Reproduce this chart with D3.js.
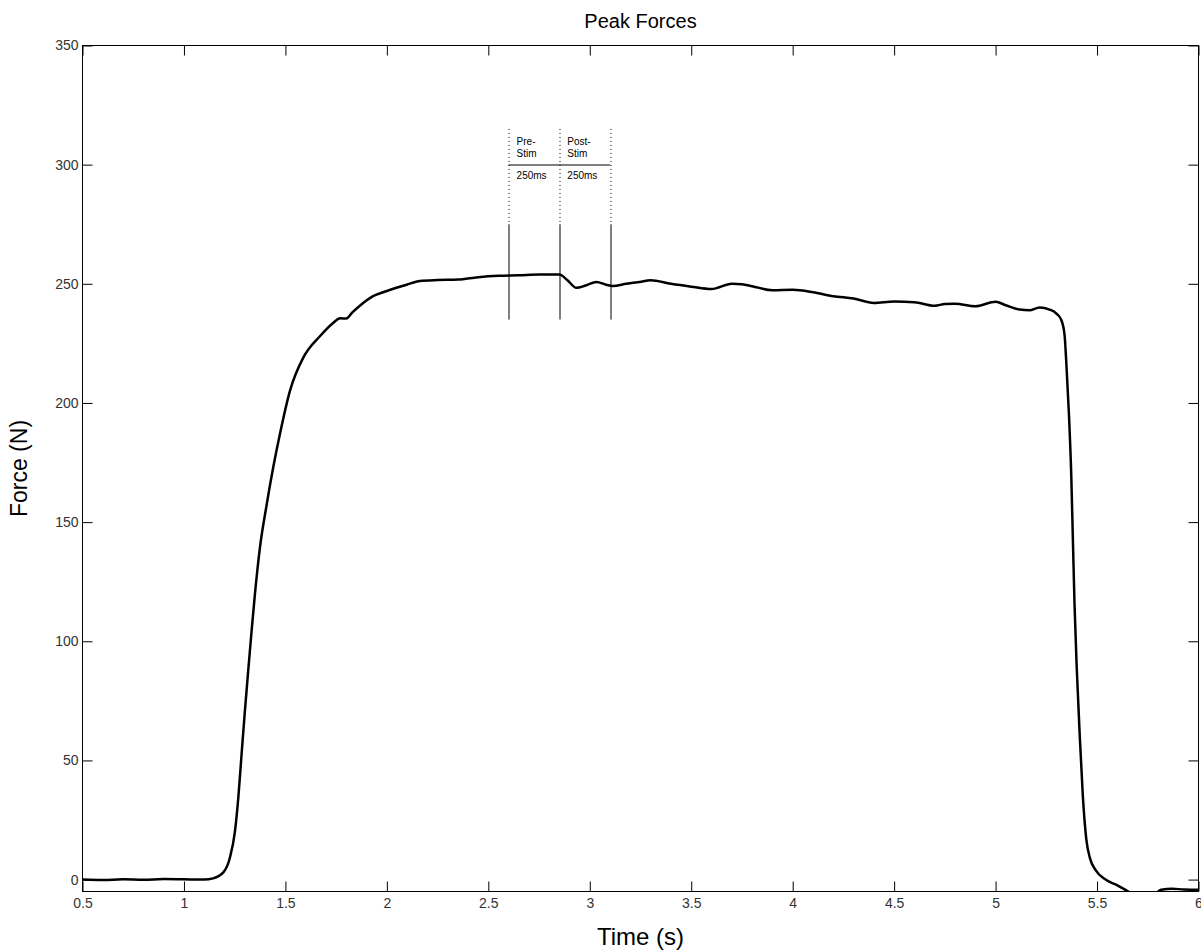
<!DOCTYPE html>
<html>
<head>
<meta charset="utf-8">
<script src="https://cdn.jsdelivr.net/npm/d3@7"></script>
<style>
  body { margin: 0; background: #fff; }
  svg { font-family: "Liberation Sans", Arial, sans-serif; }
  .axis text { fill: #333; font-size: 14px; }
  .axis line { stroke: #000; }
</style>
</head>
<body>
<div id="chart-area"></div>
<script>
// force trace
const times = [0.5, 0.6, 0.7, 0.8, 0.9, 1.0, 1.1, 1.144, 1.194, 1.227, 1.251, 1.268, 1.284, 1.300,
  1.317, 1.333, 1.35, 1.374, 1.407, 1.44, 1.473, 1.522, 1.588, 1.67, 1.735, 1.77, 1.80, 1.83,
  1.867, 1.932, 2.0, 2.097, 2.163, 2.25, 2.35, 2.45, 2.55, 2.65, 2.75, 2.85, 2.89, 2.934, 2.98,
  3.033, 3.08, 3.113, 3.18, 3.246, 3.3, 3.4, 3.5, 3.6, 3.7, 3.75, 3.8, 3.9, 4.0, 4.1, 4.2, 4.3,
  4.4, 4.5, 4.6, 4.7, 4.75, 4.8, 4.9, 5.0, 5.05, 5.118, 5.167, 5.217, 5.266, 5.3, 5.324, 5.340,
  5.348, 5.361, 5.373, 5.381, 5.389, 5.400, 5.414, 5.430, 5.447, 5.465, 5.493, 5.542, 5.6, 5.65,
  5.7, 5.76, 5.816, 5.87, 5.93, 6.0]
const forces = [0, -0.2, 0.1, -0.1, 0.2, 0.1, 0, 0.5, 3, 9.4, 20, 34.5, 52.6, 70.4,
  88, 104, 120, 139, 157, 173, 187, 205, 219, 228, 233.6, 235.5, 235.4, 238,
  240.8, 244.8, 247, 249.6, 251.2, 251.6, 251.8, 252.8, 253.4, 253.6, 253.9, 253.9, 251.5, 248.3, 249.3,
  250.8, 249.6, 249.1, 250, 250.8, 251.5, 250, 248.8, 247.8, 250, 249.8, 249, 247.3, 247.5, 246.5, 244.8, 243.8,
  242, 242.6, 242.3, 240.8, 241.5, 241.6, 240.6, 242.5, 241, 239.2, 238.9, 240.1, 239.2, 237.5, 234.8, 228.5,
  217.7, 196.2, 169.4, 142.5, 115.6, 88.7, 61.8, 35, 17, 9, 4, 0, -2.4, -4.8,
  -7, -7.5, -4.3, -3.8, -4.2, -4.3]

const xTicks = [0.5, 1, 1.5, 2, 2.5, 3, 3.5, 4, 4.5, 5, 5.5, 6]
const yTicks = [0, 50, 100, 150, 200, 250, 300, 350]

// stimulus window markers
const markerTimes = [2.6, 2.85, 3.1]
const windowLabels = [["Pre-", "Stim"], ["Post-", "Stim"]]
const windowDurations = ["250ms", "250ms"]

const MARGIN = { LEFT: 82.5, RIGHT: 2.5, TOP: 45.5, BOTTOM: 60.5 }
const WIDTH = 1201 - MARGIN.LEFT - MARGIN.RIGHT
const HEIGHT = 952 - MARGIN.TOP - MARGIN.BOTTOM

const svg = d3.select("#chart-area").append("svg")
  .attr("width", 1201)
  .attr("height", 952)

const g = svg.append("g")
  .attr("transform", `translate(${MARGIN.LEFT}, ${MARGIN.TOP})`)

const x = d3.scaleLinear().domain([0.5, 6]).range([0, WIDTH])
const y = d3.scaleLinear().domain([-5, 350]).range([HEIGHT, 0])

// Title
svg.append("text")
  .attr("x", MARGIN.LEFT + WIDTH / 2)
  .attr("y", 28)
  .attr("text-anchor", "middle")
  .style("font-size", "20px")
  .text("Peak Forces")

// X label
g.append("text")
  .attr("x", WIDTH / 2)
  .attr("y", HEIGHT + 53)
  .attr("text-anchor", "middle")
  .style("font-size", "24px")
  .text("Time (s)")

// Y label
g.append("text")
  .attr("x", -(HEIGHT / 2))
  .attr("y", -56)
  .attr("text-anchor", "middle")
  .attr("transform", "rotate(-90)")
  .style("font-size", "23px")
  .text("Force (N)")

// axes with inward ticks on all four sides
g.append("g").attr("class", "axis")
  .attr("transform", `translate(0, ${HEIGHT})`)
  .call(d3.axisBottom(x).tickValues(xTicks).tickSizeInner(-10).tickSizeOuter(0).tickPadding(7)
    .tickFormat(d3.format("")))
  .call(a => a.select(".domain").remove())
g.append("g").attr("class", "axis")
  .call(d3.axisTop(x).tickValues(xTicks).tickSizeInner(-10).tickSizeOuter(0).tickFormat(""))
  .call(a => a.select(".domain").remove())
g.append("g").attr("class", "axis")
  .call(d3.axisLeft(y).tickValues(yTicks).tickSizeInner(-10).tickSizeOuter(0).tickPadding(4))
  .call(a => a.select(".domain").remove())
g.append("g").attr("class", "axis")
  .attr("transform", `translate(${WIDTH}, 0)`)
  .call(d3.axisRight(y).tickValues(yTicks).tickSizeInner(-10).tickSizeOuter(0).tickFormat(""))
  .call(a => a.select(".domain").remove())

g.append("rect")
  .attr("width", WIDTH)
  .attr("height", HEIGHT)
  .attr("fill", "none")
  .attr("stroke", "#000")
  .attr("stroke-width", 1)

// annotation
g.selectAll(".marker-solid")
  .data(markerTimes)
  .enter().append("line")
  .attr("x1", d => Math.round(x(d)) + 0.5)
  .attr("x2", d => Math.round(x(d)) + 0.5)
  .attr("y1", y(275))
  .attr("y2", y(235))
  .attr("stroke", "#000")
  .attr("stroke-width", 1)

g.selectAll(".marker-dot")
  .data(markerTimes)
  .enter().append("line")
  .attr("x1", d => Math.round(x(d)) + 0.5)
  .attr("x2", d => Math.round(x(d)) + 0.5)
  .attr("y1", y(315))
  .attr("y2", y(275))
  .attr("stroke", "#000")
  .attr("stroke-width", 1)
  .attr("stroke-dasharray", "1,3")

g.append("line")
  .attr("x1", x(markerTimes[0]))
  .attr("x2", x(markerTimes[2]))
  .attr("y1", Math.round(y(300)) + 0.5)
  .attr("y2", Math.round(y(300)) + 0.5)
  .attr("stroke", "#000")

windowLabels.forEach((lines, i) => {
  const tx = x(markerTimes[i]) + 8
  lines.forEach((t, j) => {
    g.append("text")
      .attr("x", tx)
      .attr("y", y(300) - 20 + j * 12.5)
      .style("font-size", "10px")
      .text(t)
  })
  g.append("text")
    .attr("x", tx)
    .attr("y", y(300) + 14)
    .style("font-size", "10px")
    .text(windowDurations[i])
})

// force trace
svg.append("defs").append("clipPath").attr("id", "plot-clip")
  .append("rect").attr("width", WIDTH).attr("height", HEIGHT)

const data = times.map((t, i) => ({ t: t, f: forces[i] }))
const line = d3.line()
  .x(d => x(d.t))
  .y(d => y(d.f))
  .curve(d3.curveMonotoneX)

g.append("path")
  .datum(data)
  .attr("clip-path", "url(#plot-clip)")
  .attr("fill", "none")
  .attr("stroke", "#000")
  .attr("stroke-width", 2.5)
  .attr("d", line)
</script>
</body>
</html>
